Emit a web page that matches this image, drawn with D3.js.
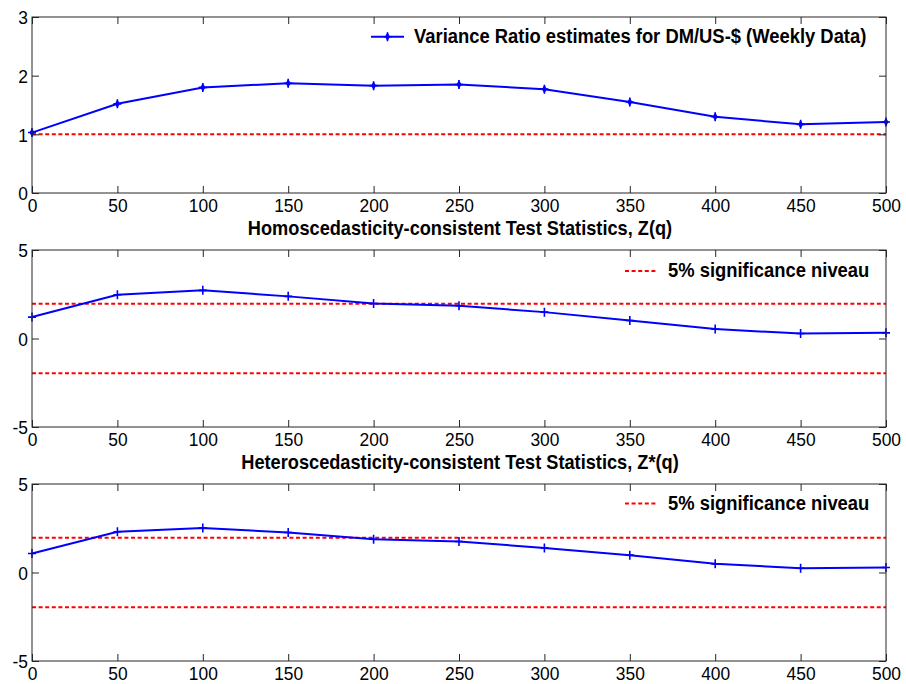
<!DOCTYPE html>
<html>
<head>
<meta charset="utf-8">
<script src="https://cdn.jsdelivr.net/npm/d3@7"></script>
<style>
    body { margin: 0; background: #fff; }
    svg { display: block; }
    text { font-family: Arial, "Liberation Sans", sans-serif; fill: #000; }
</style>
</head>
<body>
<svg id="chart" width="906" height="684"></svg>
<script>
    // values
    var lags = [0, 50, 100, 150, 200, 250, 300, 350, 400, 450, 500];
    var vrEstimates = [1.03, 1.52, 1.80, 1.87, 1.83, 1.85, 1.77, 1.55, 1.30, 1.17, 1.21];
    var zHomo = [1.21, 2.47, 2.72, 2.38, 1.98, 1.85, 1.49, 1.02, 0.53, 0.28, 0.32];
    var zHetero = [1.07, 2.30, 2.52, 2.26, 1.88, 1.75, 1.39, 0.98, 0.49, 0.24, 0.28];
    var vrReference = [1];
    var criticalValues = [1.96, -1.96];

    var xTicks = [0, 50, 100, 150, 200, 250, 300, 350, 400, 450, 500];
    var yTicksVR = [0, 1, 2, 3];
    var yTicksZ = [-5, 0, 5];

    var vrLegend = "Variance Ratio estimates for DM/US-$ (Weekly Data)";
    var zLegend = "5% significance niveau";
    var homoTitle = "Homoscedasticity-consistent Test Statistics, Z(q)";
    var heteroTitle = "Heteroscedasticity-consistent Test Statistics, Z*(q)";

    var svg = d3.select("#chart");
    var stretch = 1.1;   // the picture's text is a little taller than wide
    var tickLen = 7;
    var left = 32, right = 886;

    // plain hyphen for negatives, no decimals
    function plainNumber(d) {
        return String(d);
    }

    var xScale = d3.scaleLinear()
        .domain([0, 500])
        .range([left, right]);

    function drawPanel(p) {
        var yScale = d3.scaleLinear()
            .domain(p.domain)
            .range([p.bottom, p.top]);

        var g = svg.append("g");

        // reference lines
        p.hlines.forEach(function (v) {
            g.append("line")
                .attr("x1", xScale(0)).attr("x2", xScale(500))
                .attr("y1", yScale(v)).attr("y2", yScale(v))
                .attr("stroke", "#ff0000")
                .attr("stroke-width", 2)
                .attr("stroke-dasharray", "4,2.6");
        });

        var line = d3.line()
            .x(function (d, i) { return xScale(lags[i]); })
            .y(function (d) { return yScale(d); });

        g.append("path")
            .datum(p.values)
            .attr("d", line)
            .attr("fill", "none")
            .attr("stroke", "#0000ff")
            .attr("stroke-width", 2);

        var marks = g.selectAll(".mark")
            .data(p.values)
            .enter()
            .append("g")
            .attr("transform", function (d, i) {
                return "translate(" + xScale(lags[i]) + "," + yScale(d) + ")";
            });
        marks.append("path")
            .attr("d", "M-4,0H4M0,-4.5V4.5")
            .attr("stroke", "#0000ff")
            .attr("stroke-width", 1.6);
        if (p.star) {
            marks.append("path")
                .attr("d", d3.symbol().type(d3.symbolDiamond).size(22))
                .attr("fill", "#0000ff");
        }

        // box
        g.append("rect")
            .attr("x", left).attr("y", p.top)
            .attr("width", right - left).attr("height", p.bottom - p.top)
            .attr("fill", "none")
            .attr("stroke", "#262626")
            .attr("stroke-width", 1);

        // axes, ticks pointing inward on all four sides
        var xAxis = d3.axisBottom(xScale).tickValues(xTicks)
            .tickSizeInner(-tickLen).tickSizeOuter(0).tickFormat(plainNumber);
        var xa = g.append("g")
            .attr("transform", "translate(0," + p.bottom + ")")
            .call(xAxis);
        xa.selectAll("text")
            .attr("y", 19 / stretch)
            .attr("dy", 0)
            .attr("transform", "scale(1," + stretch + ")");

        var xTop = d3.axisTop(xScale).tickValues(xTicks)
            .tickSizeInner(-tickLen).tickSizeOuter(0).tickFormat("");
        g.append("g")
            .attr("transform", "translate(0," + p.top + ")")
            .call(xTop);

        var yAxis = d3.axisLeft(yScale).tickValues(p.yTicks)
            .tickSizeInner(-tickLen).tickSizeOuter(0).tickFormat(plainNumber);
        var ya = g.append("g")
            .attr("transform", "translate(" + left + ",0)")
            .call(yAxis);
        ya.selectAll("text")
            .attr("x", -4)
            .attr("dy", "0.36em")
            .attr("transform", "scale(1," + stretch + ")");

        var yRight = d3.axisRight(yScale).tickValues(p.yTicks)
            .tickSizeInner(-tickLen).tickSizeOuter(0).tickFormat("");
        g.append("g")
            .attr("transform", "translate(" + right + ",0)")
            .call(yRight);

        g.selectAll(".domain").remove();
        g.selectAll(".tick line").attr("stroke", "#262626");
        g.selectAll(".tick text")
            .attr("font-size", "17.4px")
            .attr("font-family", "Arial, 'Liberation Sans', sans-serif")
            .attr("fill", "#000");

        // legend (no box)
        var lg = g.append("g");
        lg.append("line")
            .attr("x1", p.legendX).attr("x2", p.legendX + 33)
            .attr("y1", p.legendY).attr("y2", p.legendY)
            .attr("stroke", p.star ? "#0000ff" : "#ff0000")
            .attr("stroke-width", 2)
            .attr("stroke-dasharray", p.star ? null : "4,2.6");
        if (p.star) {
            lg.append("path")
                .attr("transform", "translate(" + (p.legendX + 16.5) + "," + p.legendY + ")")
                .attr("d", "M-4,0H4M0,-4.5V4.5")
                .attr("stroke", "#0000ff")
                .attr("stroke-width", 1.6);
            lg.append("path")
                .attr("transform", "translate(" + (p.legendX + 16.5) + "," + p.legendY + ")")
                .attr("d", d3.symbol().type(d3.symbolDiamond).size(22))
                .attr("fill", "#0000ff");
        }
        lg.append("text")
            .attr("x", p.legendX + 43)
            .attr("y", p.legendBase / stretch)
            .attr("transform", "scale(1," + stretch + ")")
            .attr("font-size", "18.4px")
            .attr("font-weight", "bold")
            .text(p.legend);

        if (p.title) {
            svg.append("text")
                .attr("x", 460)
                .attr("y", p.titleBase / stretch)
                .attr("transform", "scale(1," + stretch + ")")
                .attr("text-anchor", "middle")
                .attr("font-size", "18.2px")
                .attr("font-weight", "bold")
                .text(p.title);
        }
    }

    drawPanel({
        values: vrEstimates, domain: [0, 3], yTicks: yTicksVR,
        top: 17, bottom: 193, hlines: vrReference, star: true,
        legend: vrLegend, legendX: 371, legendY: 36.7, legendBase: 43
    });
    drawPanel({
        values: zHomo, domain: [-5, 5], yTicks: yTicksZ,
        top: 250, bottom: 427, hlines: criticalValues, star: false,
        legend: zLegend, legendX: 625, legendY: 271, legendBase: 277,
        title: homoTitle, titleBase: 235
    });
    drawPanel({
        values: zHetero, domain: [-5, 5], yTicks: yTicksZ,
        top: 484, bottom: 661, hlines: criticalValues, star: false,
        legend: zLegend, legendX: 625, legendY: 503.5, legendBase: 510,
        title: heteroTitle, titleBase: 469
    });
</script>
</body>
</html>
